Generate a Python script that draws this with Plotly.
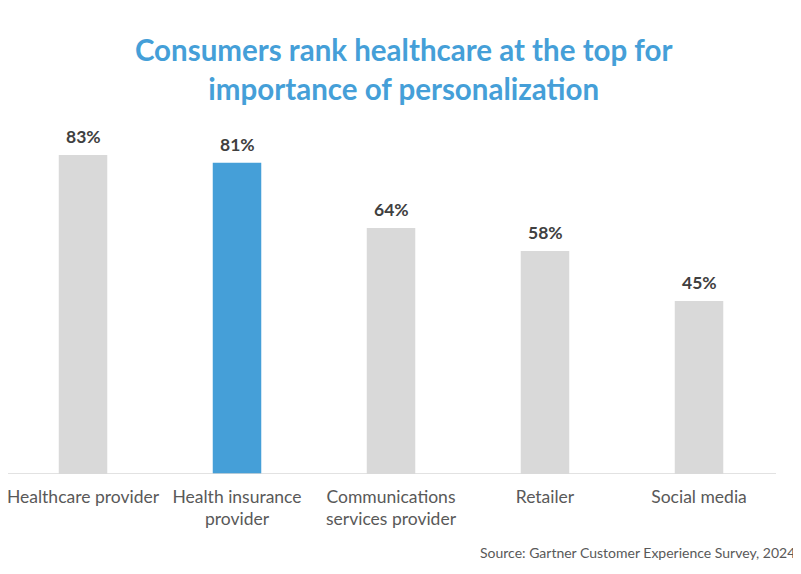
import plotly.graph_objects as go

categories = ["Healthcare provider", "Health insurance<br>provider",
              "Communications<br>services provider", "Retailer", "Social media"]
values = [83, 81, 64, 58, 45]
highlight = "Health insurance<br>provider"

GREY = "#d9d9d9"
BLUE = "#459fd8"
bar_colors = [BLUE if c == highlight else GREY for c in categories]

# the page body adds an 8px margin, so the figure is 8px smaller than the window
fig = go.Figure()
fig.add_trace(go.Bar(x=list(range(len(categories))), y=values,
                     marker_color=bar_colors, marker_line_width=0,
                     width=0.315, hoverinfo="skip"))

# value labels above the bars
for i, v in enumerate(values):
    fig.add_annotation(x=i, y=v, text="{0}%".format(v), showarrow=False,
                       xanchor="center", yanchor="bottom", yshift=6,
                       font=dict(family="Lato", size=17.5, color="#404040", weight="bold"))

fig.update_layout(
    width=793, height=566,
    margin=dict(l=20, r=25, t=112, b=100),
    paper_bgcolor="white", plot_bgcolor="white",
    showlegend=False,
    title=dict(text="Consumers rank healthcare at the top for<br>importance of personalization",
               x=0.499, xanchor="center", y=0.906, yanchor="middle",
               font=dict(family="Lato", size=29.5, color=BLUE, weight="bold")),
    font=dict(family="Lato", color="#595959"),
)
fig.update_xaxes(range=[-55 / 154, 4.5], tickmode="array",
                 tickvals=list(range(len(categories))), ticktext=categories,
                 showline=False, ticks="", ticklabeloverflow="allow", automargin=False,
                 ticklabelstandoff=10, showgrid=False, zeroline=False,
                 tickfont=dict(family="Lato", size=17.5, color="#595959"))
fig.update_yaxes(range=[0, 92.1], visible=False, showgrid=False, automargin=False)

# baseline, running a little past the left edge of the plot area
fig.add_shape(type="line", xref="paper", yref="y", x0=-20 / 748, x1=1, y0=0, y1=0,
              line=dict(color=GREY, width=1.5), layer="above")

fig.add_annotation(text="Source: Gartner Customer Experience Survey, 2024",
                   xref="paper", yref="paper", x=1.028, y=-0.223,
                   xanchor="right", yanchor="middle", showarrow=False,
                   font=dict(family="Lato", size=14, color="#595959"))

fig.write_html("out.html")
